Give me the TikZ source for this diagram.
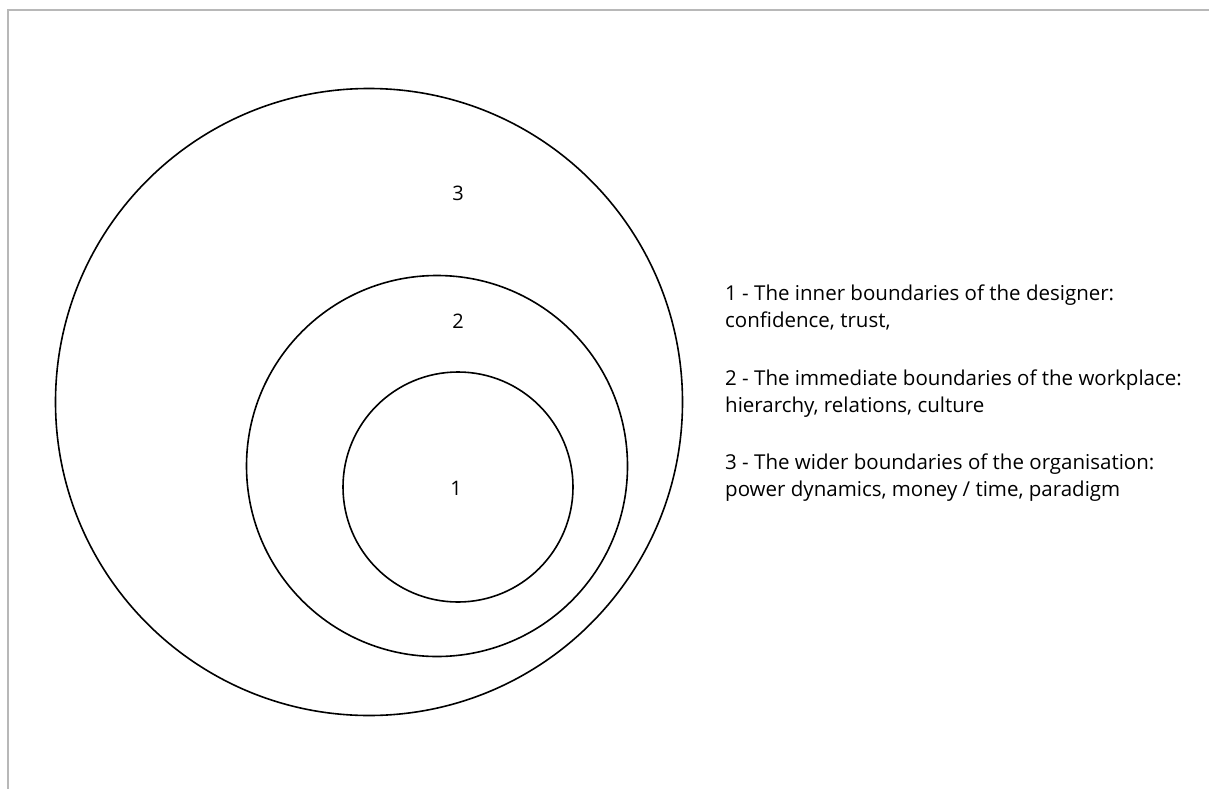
\documentclass[tikz,border=0pt]{standalone}
\usepackage{fontspec}
\setmainfont{Open Sans}
\usepackage{tikz}
\usetikzlibrary{positioning}
\tikzset{
  kor/.style={circle,draw,line width=1.6pt,inner sep=0pt},
  szam/.style={font=\fontsize{20}{27}\selectfont},
  leiras/.style={anchor=base west,align=left,inner sep=0pt,font=\fontsize{20.5}{27}\selectfont},
  keret/.style={draw=black!28,line width=2pt},
}
\begin{document}
\begin{tikzpicture}[x=1pt,y=-1pt]
  \useasboundingbox (0,0) rectangle (1209,789);
  \draw[keret] (8,789) -- (8,10) -- (1209,10);
  \node[kor,minimum size=627pt] (kor3) at (369,402) {};
  \node[kor,minimum size=381pt] (kor2) at (437,466) {};
  \node[kor,minimum size=230pt] (kor1) at (458,487) {};
  \node[szam] (sz3) at (458,193) {3};
  \node[szam] (sz2) at (458,321) {2};
  \node[szam] (sz1) at (456,488) {1};
  \node[leiras] (le1) at (725,327)
    {1 - The inner boundaries of the designer:\\ confidence, trust,};
  \node[leiras] (le2) at (725,412)
    {2 - The immediate boundaries of the workplace:\\ hierarchy, relations, culture};
  \node[leiras] (le3) at (725,496)
    {3 - The wider boundaries of the organisation:\\ power dynamics, money / time, paradigm};
\end{tikzpicture}
\end{document}
